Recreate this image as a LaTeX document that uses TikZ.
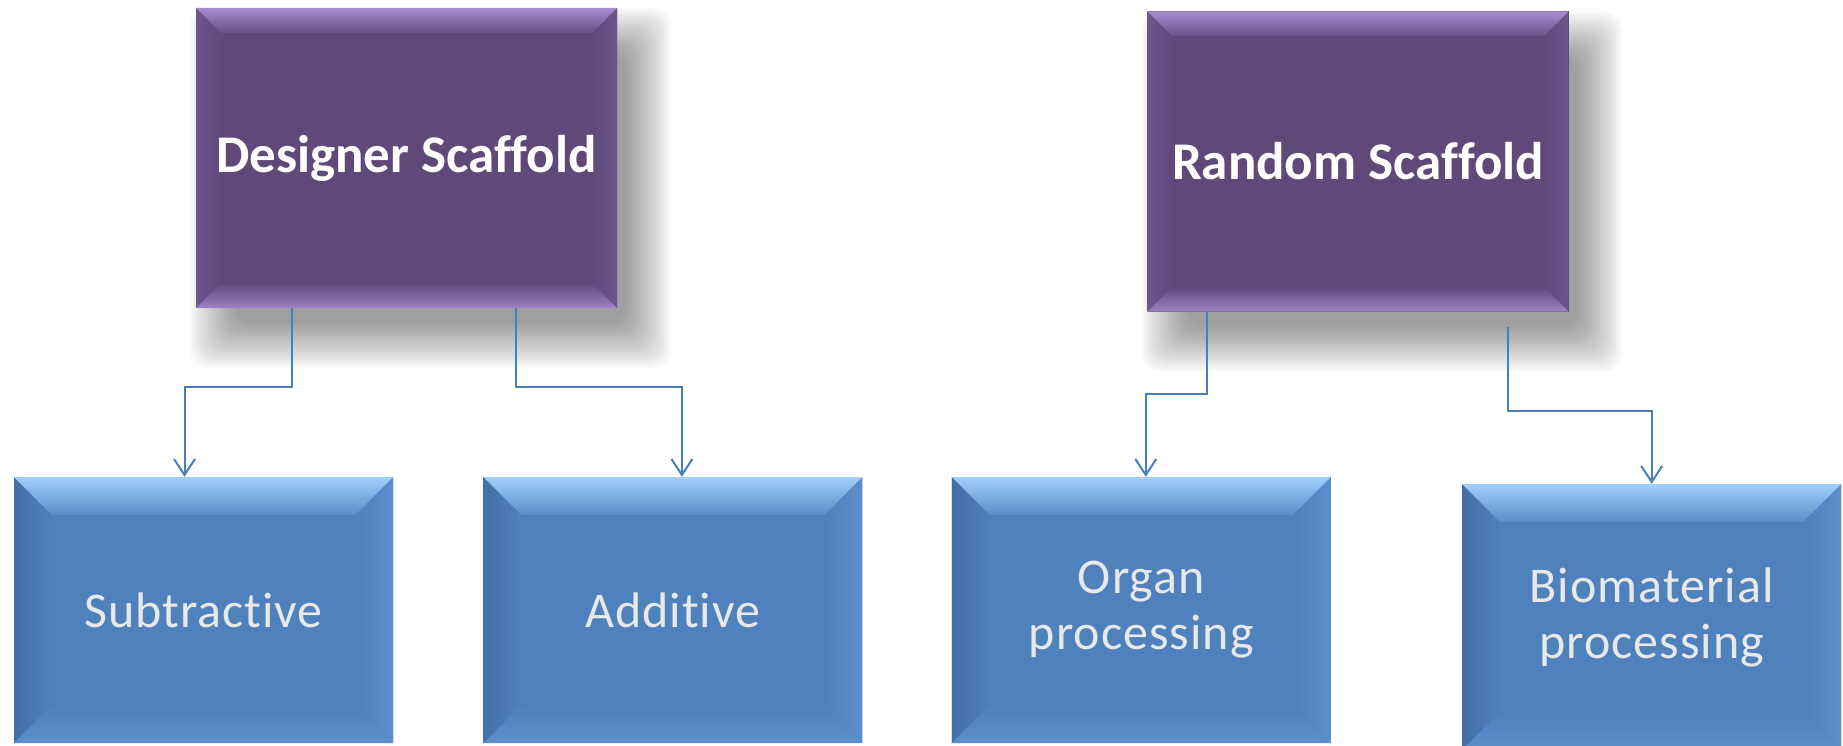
\documentclass[tikz,border=0pt]{standalone}
\usepackage{fontspec}
\setmainfont{Carlito}[Ligatures=NoCommon]
\newfontfamily\leaffont[LetterSpace=2, Ligatures=NoCommon]{Carlito}
\usetikzlibrary{positioning, arrows.meta, backgrounds}

\definecolor{scafpurple}{RGB}{95,73,121}
\definecolor{scaflight}{RGB}{168,139,212}
\definecolor{scafedge}{RGB}{108,86,140}
\definecolor{leafblue}{RGB}{79,129,189}
\definecolor{leaflight}{RGB}{160,208,252}
\definecolor{leafdark}{RGB}{68,111,166}
\definecolor{leafedge}{RGB}{92,142,204}
\definecolor{linkblue}{RGB}{74,126,187}
\definecolor{leaftext}{RGB}{232,232,232}

% bevel: #1 width, #2 top face, #3 left face, #4 right face, #5 bottom face
\newcommand{\bevelfaces}[5]{%
    \path (path picture bounding box.north west) coordinate (bnw)
          (path picture bounding box.north east) coordinate (bne)
          (path picture bounding box.south west) coordinate (bsw)
          (path picture bounding box.south east) coordinate (bse);
    \fill[#3] (bnw) -- ([shift={(#1,-#1)}]bnw) -- ([shift={(#1,#1)}]bsw) -- (bsw) -- cycle;
    \fill[#4] (bne) -- ([shift={(-#1,-#1)}]bne) -- ([shift={(-#1,#1)}]bse) -- (bse) -- cycle;
    \shade[#2] (bnw) -- (bne) -- ([shift={(-#1,-#1)}]bne) -- ([shift={(#1,-#1)}]bnw) -- cycle;
    \shade[#5] (bsw) -- (bse) -- ([shift={(-#1,#1)}]bse) -- ([shift={(#1,#1)}]bsw) -- cycle;
}

\tikzset{
    scaffold/.style={rectangle, fill=scafpurple, text=white,
        minimum width=421pt, minimum height=300pt,
        font=\bfseries\fontsize{53}{58}\selectfont,
        path picture={\bevelfaces{25pt}{top color=scaflight, bottom color=scafpurple!90!scaflight}{left color=scafedge, right color=scafpurple}{left color=scafpurple, right color=scafedge}{top color=scafpurple, bottom color=scaflight!85!scafpurple}}},
    leaf/.style={rectangle, fill=leafblue, text=leaftext, align=center,
        minimum width=379pt, minimum height=266pt,
        font=\leaffont\fontsize{50}{56}\selectfont,
        path picture={\bevelfaces{38pt}{top color=leaflight, bottom color=leafblue!85!leaflight}{left color=leafdark, right color=leafblue}{left color=leafblue, right color=leafedge}{top color=leafblue, bottom color=leafedge}}},
    link/.style={draw=linkblue, line width=2pt, -{Straight Barb[length=16pt, width=21pt]}},
}

\begin{document}
\begin{tikzpicture}[x=1pt, y=-1pt]
    \useasboundingbox (0,0) rectangle (1843,746);

    \node[scaffold] (designer) at (406.5,158) {Designer Scaffold};
    \node[scaffold] (random) at (1358,161.5) {Random Scaffold};

    \node[leaf] (subtr) at (203.5,610) {Subtractive};
    \node[leaf, right=90pt of subtr] (additive) {Additive};
    \node[leaf, right=89pt of additive] (organ) {Organ\\processing};
    \node[leaf, right=131pt of organ, yshift=-7pt] (bio) {Biomaterial\\processing};

    % soft shadows behind the top boxes
    \begin{scope}[on background layer]
        \foreach \n in {designer, random}
            \foreach \e in {-16,-14,...,30}
                \fill[black, opacity=0.021, rounded corners=18pt]
                    ([shift={({-(\e)*1pt+24pt},{(\e)*1pt-30pt})}]\n.north west) rectangle
                    ([shift={({(\e)*1pt+24pt},{-(\e)*1pt-30pt})}]\n.south east);
    \end{scope}

    \draw[link] ([xshift=-115pt]designer.south) -- ++(0,79) -| ([xshift=-19pt]subtr.north);
    \draw[link] ([xshift=109.5pt]designer.south) -- ++(0,79) -| ([xshift=9pt]additive.north);
    \draw[link] ([xshift=-151pt]random.south) -- ++(0,82) -| ([xshift=4.5pt]organ.north);
    \draw[link] ([xshift=150pt, yshift=-15pt]random.south) -- ++(0,84) -| (bio.north);
\end{tikzpicture}
\end{document}
